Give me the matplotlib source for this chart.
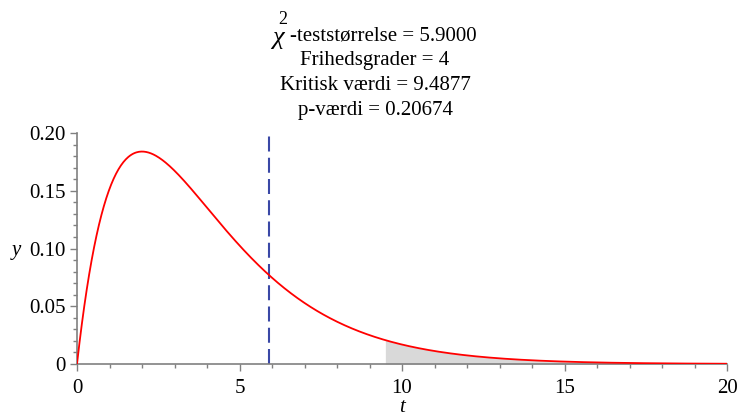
import numpy as np
import matplotlib
matplotlib.use("Agg")
import matplotlib.pyplot as plt
from matplotlib.ticker import MultipleLocator, FixedLocator
from math import gamma

plt.rcParams["font.family"] = ["Liberation Serif", "DejaVu Serif"]

# Chi-square test summary
degrees_of_freedom = 4
test_statistic = 5.9
critical_value = 9.4877
p_value = 0.20674

# Axis settings
x_range = [0, 20]
y_range = [0, 0.20]
x_tick_values = [0, 5, 10, 15, 20]
x_tick_labels = ["0", "5", "10", "15", "20"]
y_tick_values = [0, 0.05, 0.10, 0.15, 0.20]
y_tick_labels = ["0", "0.05", "0.10", "0.15", "0.20"]


def chi2_pdf(x, k):
    x = np.asarray(x, dtype=float)
    return x ** (k / 2 - 1) * np.exp(-x / 2) / (2 ** (k / 2) * gamma(k / 2))


t = np.linspace(x_range[0], x_range[1], 800)
density = chi2_pdf(t, degrees_of_freedom)

W, H = 738, 417
fig = plt.figure(figsize=(W / 100, H / 100), dpi=100)
ax = fig.add_axes([77 / W, 1 - 364 / H, 650 / W, 231 / H])

# Rejection region beyond the critical value
t_tail = np.linspace(critical_value, x_range[1], 400)
ax.fill_between(t_tail, 0, chi2_pdf(t_tail, degrees_of_freedom),
                color="#d9d9d9", linewidth=0, zorder=1)
ax.plot(t, density, color="#ff0000", linewidth=1.3, zorder=3)
ax.plot([test_statistic, test_statistic], y_range, color="#3a48a6",
        linewidth=1.5, linestyle=(0, (7.2, 3.0)), zorder=2)

ax.set_xlim(x_range)
ax.set_ylim(y_range)
for side in ("top", "right"):
    ax.spines[side].set_visible(False)
for side in ("left", "bottom"):
    ax.spines[side].set_color("#808080")
    ax.spines[side].set_linewidth(1.2)

ax.xaxis.set_major_locator(FixedLocator(x_tick_values))
ax.set_xticklabels(x_tick_labels)
ax.yaxis.set_major_locator(FixedLocator(y_tick_values))
ax.set_yticklabels(y_tick_labels)
ax.xaxis.set_minor_locator(MultipleLocator(1))
ax.yaxis.set_minor_locator(MultipleLocator(0.01))
ax.tick_params(axis="both", which="major", direction="out", length=5, width=1,
               color="#808080", labelsize=15, pad=3)
ax.tick_params(axis="x", which="major", pad=6)
ax.tick_params(axis="both", which="minor", direction="out", length=3, width=1,
               color="#808080")

fig.text(16 / W, 1 - 250 / H, "y", fontstyle="italic", fontsize=15,
         ha="center", va="center")
fig.text(402 / W, 1 - 408 / H, "t", fontstyle="italic", fontsize=15,
         ha="center", va="center")

# Title block: statistic line with a raised exponent on chi
fs = 15
cx = 374
fig.canvas.draw()
renderer = fig.canvas.get_renderer()
chi = fig.text(0, 1 - 38 / H, "χ", fontsize=19, fontstyle="italic",
               ha="left", va="center")
rest = fig.text(0, 1 - 36 / H, "-teststørrelse = %.4f" % test_statistic,
                fontsize=fs, ha="left", va="center")
w_chi = chi.get_window_extent(renderer).width
w_rest = rest.get_window_extent(renderer).width
gap = 6
x0 = cx - (w_chi + gap + w_rest) / 2
chi.set_x(x0 / W)
rest.set_x((x0 + w_chi + gap) / W)
fig.text((x0 + w_chi - 5) / W, 1 - 19 / H, "2", fontsize=13, ha="left",
         va="center")

other_lines = [
    "Frihedsgrader = %d" % degrees_of_freedom,
    "Kritisk værdi = %.4f" % critical_value,
    "p-værdi = %.5f" % p_value,
]
for i, line in enumerate(other_lines):
    fig.text(375 / W, 1 - (60 + 25 * i) / H, line, ha="center", va="center",
             fontsize=fs)

fig.savefig("out.png", dpi=100, facecolor="white")
